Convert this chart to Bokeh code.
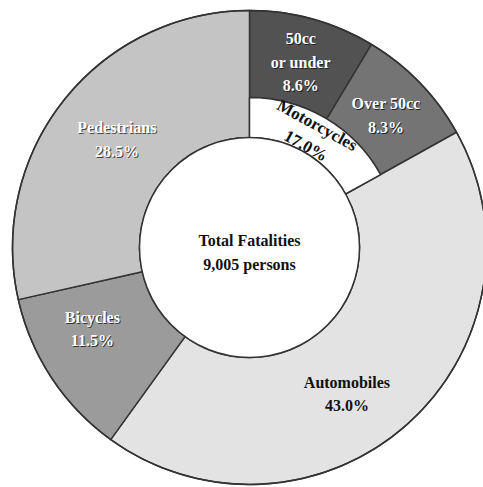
import math
from bokeh.plotting import figure
from bokeh.models import Range1d, ColumnDataSource
from bokeh.core.properties import value
from bokeh.embed import file_html
from bokeh.resources import INLINE

# ---------------- data ----------------
outer_labels = ["50cc\nor under", "Over 50cc", "Automobiles", "Bicycles", "Pedestrians"]
outer_values = [8.6, 8.3, 43.0, 11.5, 28.5]
inner_label = "Motorcycles"
inner_value = 17.0
center_title = "Total Fatalities"
center_total = "9,005 persons"

# ---------------- style ----------------
fills = ["#525252", "#747474", "#e3e3e3", "#9b9b9b", "#c4c4c4"]
text_colors = ["white", "white", "#111111", "white", "white"]
shadow = ["#222222", "#222222", None, "#333333", "#444444"]
is_moto = [True, True, False, False, False]
label_r = [192, 190, 176, 177, 171]
label_dang = [0.0, 0.0, 8.0, 6.0, 0.5]
R_HOLE, R_MID, R_OUT = 110, 150, 237
FONT = value("Liberation Serif")
FS = "16px"
EDGE = "#333333"

p = figure(width=483, height=487, output_backend="svg", toolbar_location=None,
           x_range=Range1d(-249, 234), y_range=Range1d(-240, 247),
           min_border=0, outline_line_color=None, background_fill_color="white")
p.axis.visible = False
p.grid.visible = False

total = sum(outer_values)
cum = 0.0
starts, ends, inners = [], [], []
for v, m in zip(outer_values, is_moto):
    a1 = cum / total * 360.0
    cum += v
    a2 = cum / total * 360.0
    # clockwise from top -> bokeh angle (ccw from +x)
    starts.append(math.radians(90 - a2))
    ends.append(math.radians(90 - a1))
    inners.append(R_MID if m else R_HOLE)

src = ColumnDataSource(dict(start=starts, end=ends, inner=inners, fill=fills,
                            x=[0] * 5, y=[0] * 5))
p.annular_wedge(x="x", y="y", inner_radius="inner", outer_radius=R_OUT,
                start_angle="start", end_angle="end", fill_color="fill",
                line_color=EDGE, line_width=1.5, source=src)

# motorcycles inner ring
moto_share = sum(v for v, m in zip(outer_values, is_moto) if m)
m_end = 90.0
m_start = 90.0 - moto_share / total * 360.0
p.annular_wedge(x=0, y=0, inner_radius=R_HOLE, outer_radius=R_MID,
                start_angle=math.radians(m_start), end_angle=math.radians(m_end),
                fill_color="white", line_color=EDGE, line_width=1.5)

# hole outline
p.circle(x=0, y=0, radius=R_HOLE, fill_color="white", line_color=EDGE, line_width=1.5)
p.circle(x=0, y=0, radius=R_OUT, fill_color=None, line_color=EDGE, line_width=1.5)

LH = 23.5
def put_lines(lines, cx, cy, color, sh, angle=0.0, fs=FS):
    n = len(lines)
    for i, t in enumerate(lines):
        off = (i - (n - 1) / 2) * LH
        x = cx + off * math.sin(angle)
        y = cy - off * math.cos(angle)
        if sh:
            p.text(x=[x + 1], y=[y - 1], text=[t], text_font=FONT, text_font_size=fs,
                   text_font_style="bold", text_color=sh, text_align="center",
                   text_baseline="middle", angle=angle)
        p.text(x=[x], y=[y], text=[t], text_font=FONT, text_font_size=fs,
               text_font_style="bold", text_color=color, text_align="center",
               text_baseline="middle", angle=angle)

cum = 0.0
for lab, v, tc, sh, r, da in zip(outer_labels, outer_values, text_colors, shadow, label_r, label_dang):
    mid = (cum + v / 2) / total * 360.0 + da
    cum += v
    cx = r * math.sin(math.radians(mid))
    cy = r * math.cos(math.radians(mid))
    pct = f"{v:.1f}%"
    put_lines(lab.split("\n") + [pct], cx, cy, tc, sh)

# motorcycles label (rotated along ring)
mid_m = moto_share / total * 360.0 / 2 - 1.5
rm = 128
cx = rm * math.sin(math.radians(mid_m))
cy = rm * math.cos(math.radians(mid_m))
put_lines([inner_label, f"{inner_value:.1f}%"], cx, cy, "#111111", None,
          angle=-math.radians(mid_m), fs="17px")

# center
p.text(x=[0, 0], y=[7, -17], text=[center_title, center_total], text_font=FONT,
       text_font_size=FS, text_font_style="bold", text_color="#111111",
       text_align="center", text_baseline="middle")

open("out.html", "w").write(file_html(p, INLINE))
